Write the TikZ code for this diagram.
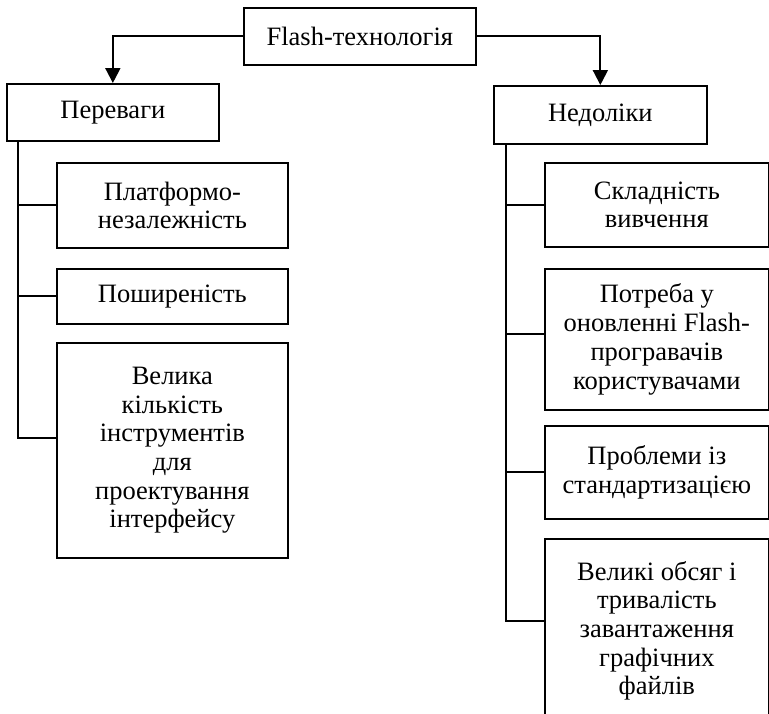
\documentclass[tikz,border=0pt]{standalone}
\usepackage{fontspec}
\setmainfont{Liberation Serif}
\usetikzlibrary{arrows.meta}
\begin{document}
\begin{tikzpicture}[x=1pt,y=-1pt,
 box/.style={draw, line width=1.7pt, align=center, inner sep=0pt, anchor=north west,
   font=\fontsize{26.5}{28.7}\selectfont},
 link/.style={line width=1.8pt},
 arr/.style={line width=2pt, -{Triangle[length=15pt,width=15pt]}}]
\useasboundingbox (0,0) rectangle (769,713);
\node[box, minimum width=232pt, minimum height=57pt] (flash) at (243,7) {Flash-технологія};
\node[box, minimum width=212pt, minimum height=57pt] (per) at (6,83) {Переваги};
\node[box, minimum width=213pt, minimum height=58pt] (ned) at (493,85) {Недоліки};
\node[box, minimum width=231pt, minimum height=85pt] (b1) at (56,162) {Платформо-\\незалежність};
\node[box, minimum width=231pt, minimum height=55pt] (b2) at (56,268) {Поширеність};
\node[box, minimum width=231pt, minimum height=215pt] (b3) at (56,342) {Велика\\кількість\\інструментів\\для\\проектування\\інтерфейсу};
\node[box, minimum width=224pt, minimum height=84pt] (c1) at (544,162) {Складність\\вивчення};
\node[box, minimum width=224pt, minimum height=141pt] (c2) at (544,268) {Потреба у\\оновленні Flash-\\програвачів\\користувачами};
\node[box, minimum width=224pt, minimum height=93pt] (c3) at (544,425) {Проблеми із\\стандартизацією};
\node[box, minimum width=224pt, minimum height=184pt] (c4) at (544,538) {Великі обсяг і\\тривалість\\завантаження\\графічних\\файлів};
\draw[arr] (flash.west) -| (per.north);
\draw[arr] (flash.east) -| (ned.north);
\coordinate (lt) at (18,140);
\coordinate (rt) at (506,143);
\draw[link] (lt) |- ([yshift=12pt]b3.west);
\draw[link] (b1.west) -- (b1.west -| lt);
\draw[link] (b2.west) -- (b2.west -| lt);
\draw[link] (rt) |- ([yshift=10pt]c4.west);
\draw[link] (c1.west) -- (c1.west -| rt);
\draw[link] ([yshift=5pt]c2.west) -- ([yshift=5pt]c2.west -| rt);
\draw[link] (c3.west) -- (c3.west -| rt);
\end{tikzpicture}
\end{document}
